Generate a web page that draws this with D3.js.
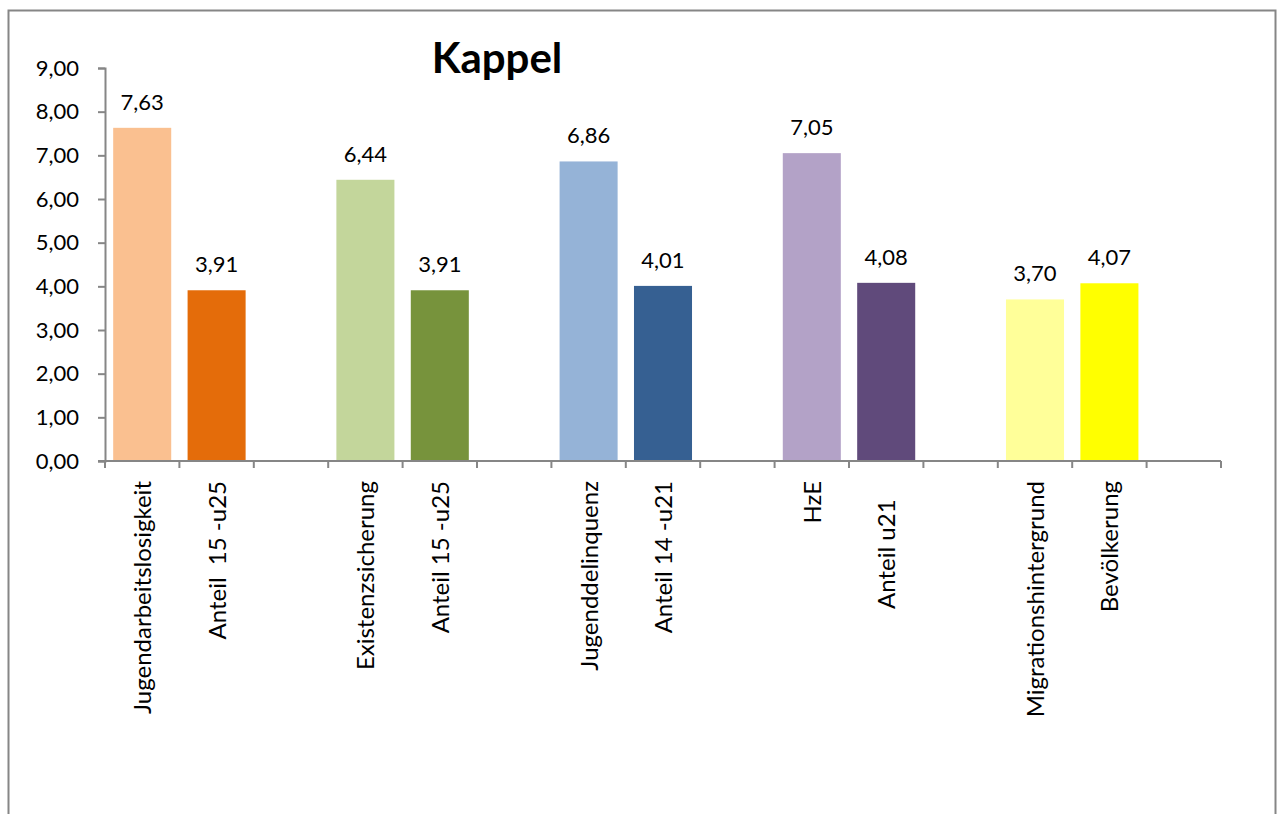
<!DOCTYPE html>
<html>
<head>
<meta charset="utf-8">
<script src="https://cdn.jsdelivr.net/npm/d3@7"></script>
<style>
  body { margin: 0; background: #fff; }
  text { font-family: Lato, "Noto Sans", sans-serif; fill: #000; }
</style>
</head>
<body>
<script>
const categories = [
  'Jugendarbeitslosigkeit', 'Anteil  15 -u25', '',
  'Existenzsicherung', 'Anteil 15 -u25', ' ',
  'Jugenddelinquenz', 'Anteil 14 -u21', '  ',
  'HzE', 'Anteil u21   ', '   ',
  'Migrationshintergrund', 'Bevölkerung', '    '
]
const values = [7.63, 3.91, null, 6.44, 3.91, null, 6.86, 4.01, null, 7.05, 4.08, null, 3.70, 4.07, null]
const barColors = ['#FAC090', '#E46C0A', null, '#C3D69B', '#77933C', null, '#95B3D7', '#366092', null,
                   '#B3A2C7', '#604A7B', null, '#FFFF99', '#FFFF00', null]
const yTicks = [0, 1, 2, 3, 4, 5, 6, 7, 8, 9]
const title = 'Kappel'

const w = 1279
const h = 814
const pLeft = 105, pRight = 1221, pTop = 68, pBottom = 461

const fmt = v => d3.format('.2f')(v).replace('.', ',')

const svg = d3.select('body')
              .append('svg')
              .attr('width', w)
              .attr('height', h)

// frame
svg.append('rect')
  .attr('x', 8.5).attr('y', 10.5)
  .attr('width', 1267).attr('height', 820)
  .attr('fill', 'none')
  .attr('stroke', '#868686')
  .attr('stroke-width', 2)

const xScale = d3.scaleBand()
                 .domain(categories)
                 .range([pLeft, pRight])
                 .paddingInner(0.22)
                 .paddingOuter(0.11)

const yScale = d3.scaleLinear()
                 .domain([0, 9])
                 .range([pBottom, pTop])

const data = categories.map((c, i) => ({cat: c, value: values[i], color: barColors[i]}))
                       .filter(d => d.value !== null)

svg.selectAll('rect.bar')
  .data(data)
  .enter()
  .append('rect')
  .attr('class', 'bar')
  .attr('x', d => xScale(d.cat))
  .attr('y', d => yScale(d.value))
  .attr('width', xScale.bandwidth())
  .attr('height', d => yScale(0) - yScale(d.value))
  .attr('fill', d => d.color)

svg.selectAll('text.val')
  .data(data)
  .enter()
  .append('text')
  .attr('class', 'val')
  .attr('x', d => xScale(d.cat) + xScale.bandwidth() / 2)
  .attr('y', d => yScale(d.value) - 18)
  .attr('text-anchor', 'middle')
  .attr('font-size', 22)
  .text(d => fmt(d.value))

// y axis
const yAxis = d3.axisLeft(yScale)
                .tickValues(yTicks)
                .tickSize(7)
                .tickPadding(19)
                .tickFormat(fmt)

const gy = svg.append('g')
  .attr('transform', `translate(${pLeft},0)`)
  .call(yAxis)
gy.selectAll('text').attr('font-size', 22).attr('font-family', 'Lato').attr('fill', '#000')

// x axis: ticks at slot boundaries
const step = xScale.step()
const gx = svg.append('g').attr('transform', `translate(0,${pBottom})`)
gx.append('line')
  .attr('x1', pLeft - 7).attr('x2', pRight)
  .attr('stroke', '#868686').attr('stroke-width', 2)
gx.selectAll('line.tick')
  .data(d3.range(categories.length + 1))
  .enter()
  .append('line')
  .attr('class', 'tick')
  .attr('x1', i => pLeft + i * step).attr('x2', i => pLeft + i * step)
  .attr('y1', 0).attr('y2', 7)
  .attr('stroke', '#868686').attr('stroke-width', 2)

gx.selectAll('text.cat')
  .data(categories)
  .enter()
  .append('text')
  .attr('class', 'cat')
  .attr('transform', d => `translate(${xScale(d) + xScale.bandwidth() / 2 + 9},${20}) rotate(-90)`)
  .attr('text-anchor', 'end')
  .attr('font-size', 24)
  .attr('xml:space', 'preserve')
  .style('white-space', 'pre')
  .text(d => d.trim() === '' ? '' : d)

gy.select('.domain').attr('stroke', '#868686').attr('stroke-width', 2)
gy.selectAll('.tick line').attr('stroke', '#868686').attr('stroke-width', 2)

svg.append('text')
  .attr('x', 497)
  .attr('y', 73)
  .attr('text-anchor', 'middle')
  .attr('font-size', 42)
  .attr('font-weight', 'bold')
  .text(title)
</script>
</body>
</html>
